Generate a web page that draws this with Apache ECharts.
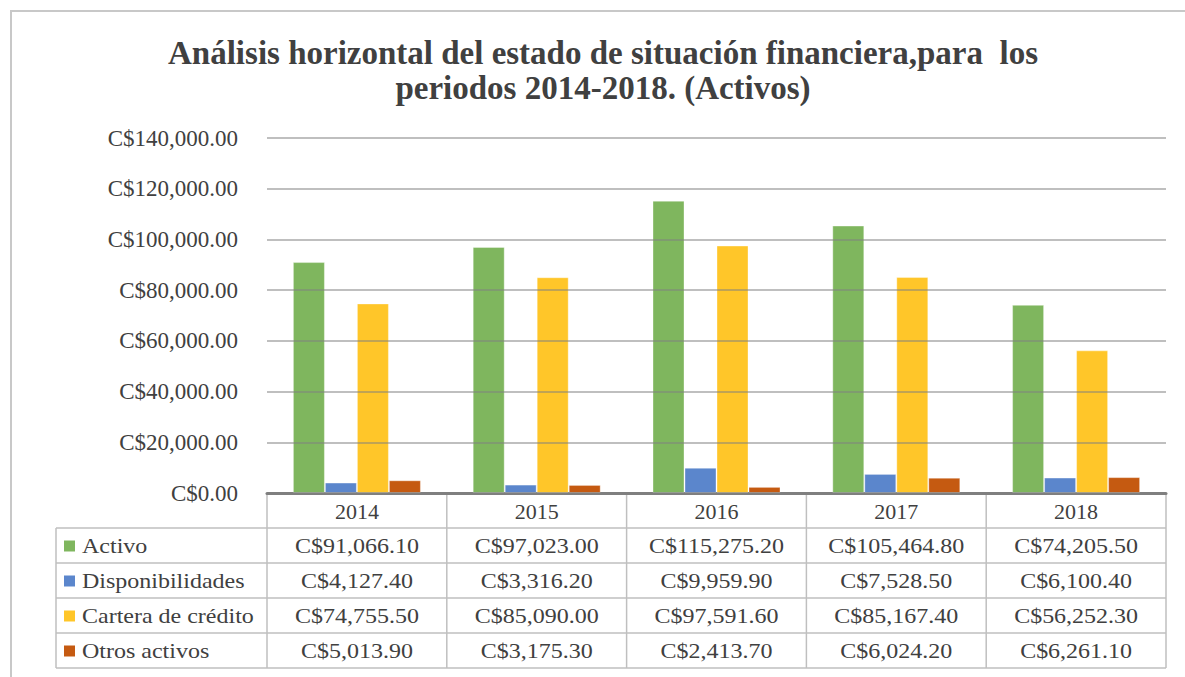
<!DOCTYPE html>
<html>
<head>
<meta charset="utf-8">
<script src="https://cdn.jsdelivr.net/npm/echarts@6/dist/echarts.min.js"></script>
<style>
    html, body { margin: 0; padding: 0; background: #fff; }
    #chart { width: 1185px; height: 677px; }
</style>
</head>
<body>
<div id="chart"></div>
<script>
var years = ["2014", "2015", "2016", "2017", "2018"];
var seriesNames = ["Activo", "Disponibilidades", "Cartera de crédito", "Otros activos"];
var activo = [91066.1, 97023.0, 115275.2, 105464.8, 74205.5];
var disponibilidades = [4127.4, 3316.2, 9959.9, 7528.5, 6100.4];
var cartera = [74755.5, 85090.0, 97591.6, 85167.4, 56252.3];
var otros = [5013.9, 3175.3, 2413.7, 6024.2, 6261.1];
var yTicks = [0, 20000, 40000, 60000, 80000, 100000, 120000, 140000];

var colors = ["#7fb65e", "#5b86cc", "#ffc629", "#c55a11"];
var allSeries = [activo, disponibilidades, cartera, otros];

function money(v) {
    var parts = Number(v).toFixed(2).split(".");
    parts[0] = parts[0].replace(/\B(?=(\d{3})+(?!\d))/g, ",");
    return "C$" + parts.join(".");
}

var chartDom = document.getElementById("chart");
var myChart = echarts.init(chartDom, null, { renderer: "svg" });

// layout de la rejilla y tabla
var gLeft = 267, gRight = 1166, gTop = 138, gBottom = 493;
var rowH = 35, headH = 35, legLeft = 56;
var colW = (gRight - gLeft) / years.length;
var font = "Liberation Serif, Times New Roman, serif";
var lineColor = "#bfbfbf";
var txtColor = "#404040";
var stretch = 1.2; // el texto original es mas ancho

var graphics = [];
// marco exterior
graphics.push({ type: "line", shape: { x1: 10, y1: 11, x2: 1185, y2: 11 }, style: { stroke: "#c8c8c8", lineWidth: 2 } });
graphics.push({ type: "line", shape: { x1: 11, y1: 10, x2: 11, y2: 677 }, style: { stroke: "#c8c8c8", lineWidth: 2 } });

var tableTop = gBottom + headH;
var tableBottom = tableTop + rowH * seriesNames.length;
// lineas horizontales
for (var r = 0; r <= seriesNames.length; r++) {
    var y = tableTop + r * rowH;
    graphics.push({ type: "line", shape: { x1: legLeft, y1: y, x2: gRight, y2: y }, style: { stroke: lineColor, lineWidth: 1.5 } });
}
// lineas verticales
graphics.push({ type: "line", shape: { x1: legLeft, y1: tableTop, x2: legLeft, y2: tableBottom }, style: { stroke: lineColor, lineWidth: 1.5 } });
for (var c = 0; c <= years.length; c++) {
    var x = gLeft + c * colW;
    graphics.push({ type: "line", shape: { x1: x, y1: gBottom, x2: x, y2: tableBottom }, style: { stroke: lineColor, lineWidth: 1.5 } });
}
// filas de la tabla
seriesNames.forEach(function (name, i) {
    var cy = tableTop + i * rowH + rowH / 2;
    graphics.push({ type: "rect", shape: { x: 64, y: cy - 5, width: 11, height: 11 }, style: { fill: colors[i] } });
    graphics.push({
        type: "text", x: 82, y: cy + 1, scaleX: stretch,
        style: { text: name, font: "20px " + font, fill: txtColor, verticalAlign: "middle", textVerticalAlign: "middle" }
    });
    allSeries[i].forEach(function (v, j) {
        graphics.push({
            type: "text", x: gLeft + colW * (j + 0.5), y: cy + 1, scaleX: stretch,
            style: { text: money(v), font: "20px " + font, fill: txtColor, align: "center", textAlign: "center", verticalAlign: "middle", textVerticalAlign: "middle" }
        });
    });
});

var series = seriesNames.map(function (name, i) {
    return {
        name: name,
        type: "bar",
        data: allSeries[i],
        barWidth: 32,
        barGap: "0%",
        itemStyle: { color: colors[i], borderColor: "rgba(255,255,255,0.35)", borderWidth: 1 },
    };
});

var option = {
    backgroundColor: "#fff",
    animation: false,
    title: {
        text: "Análisis horizontal del estado de situación financiera,para  los\nperiodos 2014-2018. (Activos)",
        left: 598,
        top: 30,
        textAlign: "center",
        textStyle: {
            fontFamily: font,
            fontWeight: "bold",
            fontSize: 33,
            lineHeight: 35,
            color: txtColor,
        },
    },
    grid: {
        left: gLeft,
        right: 1185 - gRight,
        top: gTop,
        bottom: 677 - gBottom,
        containLabel: false,
    },
    xAxis: {
        type: "category",
        data: years,
        axisTick: { show: false },
        axisLine: { lineStyle: { color: "#7f7f7f", width: 3 } },
        axisLabel: {
            margin: 7,
            color: txtColor,
            fontFamily: font,
            fontSize: 22,
        },
    },
    yAxis: {
        type: "value",
        min: yTicks[0],
        max: yTicks[yTicks.length - 1],
        interval: 20000,
        z: 3,
        axisLine: { show: false },
        axisTick: { show: false },
        splitLine: { lineStyle: { color: "rgba(128,128,128,0.5)", width: 2 } },
        axisLabel: {
            margin: 29,
            color: txtColor,
            fontFamily: font,
            fontSize: 23,
            formatter: function (v) { return money(v); },
        },
    },
    graphic: graphics,
    series: series,
};
option && myChart.setOption(option, true);
</script>
</body>
</html>
